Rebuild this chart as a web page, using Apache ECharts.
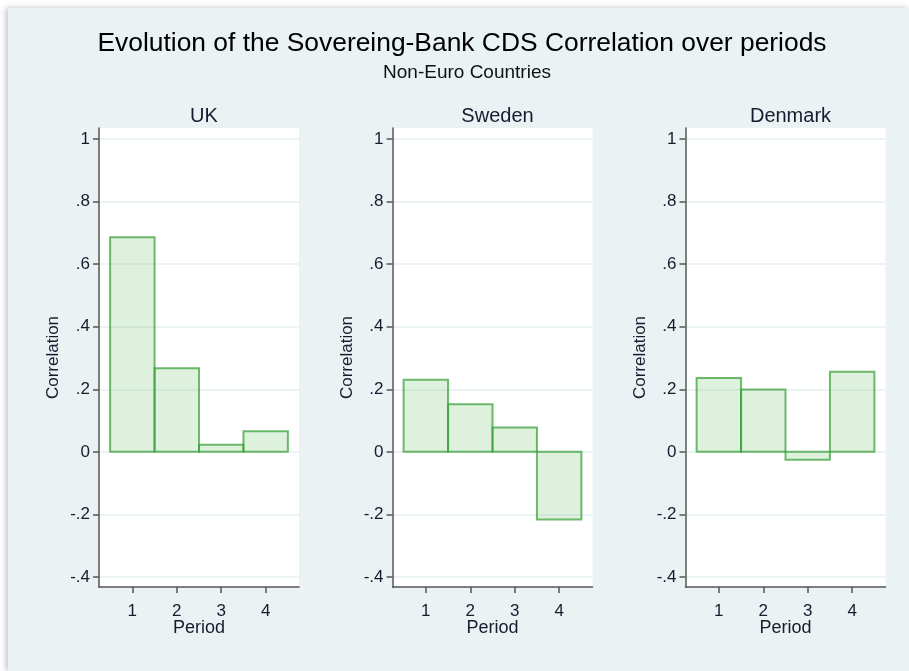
<!DOCTYPE html>
<html>
<head>
<meta charset="utf-8">
<script src="https://cdn.jsdelivr.net/npm/echarts@6/dist/echarts.min.js"></script>
<style>
  html, body { margin: 0; padding: 0; background: #ffffff; }
  #chart { width: 909px; height: 671px; }
</style>
</head>
<body>
<div id="chart"></div>
<script>
// Correlation of sovereign and bank CDS by period, non-euro countries
const countries = ['UK', 'Sweden', 'Denmark'];
const periods = [1, 2, 3, 4];
const ukValues = [0.686, 0.267, 0.023, 0.066];
const swedenValues = [0.230, 0.152, 0.078, -0.216];
const denmarkValues = [0.236, 0.199, -0.025, 0.256];
const yTickValues = [-0.4, -0.2, 0, 0.2, 0.4, 0.6, 0.8, 1];
const yTickLabels = ['-.4', '-.2', '0', '.2', '.4', '.6', '.8', '1'];
const titleText = 'Evolution of the Sovereing-Bank CDS Correlation over periods';
const subtitleText = 'Non-Euro Countries';
const xAxisName = 'Period';
const yAxisName = 'Correlation';

const seriesValues = [ukValues, swedenValues, denmarkValues];

const FONT = '"Liberation Sans", Arial, sans-serif';
const TEXT = '#1a1a2e';
const AXIS = '#555555';
const panelLefts = [99, 392.5, 685.5];
const panelWidth = 200;
const panelTop = 128;
const panelBottom = 671 - 587;

const chart = echarts.init(document.getElementById('chart'), null, { renderer: 'canvas' });

const grids = [], xAxes = [], yAxes = [], series = [], titles = [];

countries.forEach((name, i) => {
  grids.push({
    left: panelLefts[i], width: panelWidth, top: panelTop, bottom: panelBottom,
    show: true, backgroundColor: '#ffffff', borderWidth: 0, containLabel: false
  });
  xAxes.push({
    type: 'value', gridIndex: i, min: 0.25, max: 4.75,
    name: xAxisName, nameLocation: 'middle', nameGap: 32, nameMoveOverlap: false,
    nameTextStyle: { fontFamily: FONT, fontSize: 18, color: TEXT },
    axisLine: { show: true, onZero: false, lineStyle: { color: AXIS, width: 1.5 } },
    axisTick: { show: true, length: 6, lineStyle: { color: AXIS, width: 1.5 }, customValues: periods },
    axisLabel: { fontFamily: FONT, fontSize: 17, color: TEXT, margin: 16, customValues: periods,
      formatter: v => String(v) },
    splitLine: { show: false }
  });
  yAxes.push({
    type: 'value', gridIndex: i, min: -0.432, max: 1.035,
    name: yAxisName, nameLocation: 'middle', nameGap: 37, nameRotate: 90, nameMoveOverlap: false,
    nameTextStyle: { fontFamily: FONT, fontSize: 17, color: TEXT },
    axisLine: { show: true, lineStyle: { color: AXIS, width: 1.5 } },
    axisTick: { show: true, length: 6, lineStyle: { color: AXIS, width: 1.5 }, customValues: yTickValues },
    axisLabel: { fontFamily: FONT, fontSize: 17, color: TEXT, margin: 9, customValues: yTickValues,
      formatter: v => {
        const k = yTickValues.findIndex(t => Math.abs(t - v) < 1e-6);
        return k >= 0 ? yTickLabels[k] : '';
      } },
    splitLine: { show: true, lineStyle: { color: '#e6eff1', width: 1.5 } }
  });
  series.push({
    type: 'custom', xAxisIndex: i, yAxisIndex: i,
    data: periods.map((p, k) => [p, seriesValues[i][k]]),
    renderItem: (params, api) => {
      const x = api.value(0), v = api.value(1);
      const a = api.coord([x - 0.5, Math.max(v, 0)]);
      const b = api.coord([x + 0.5, Math.min(v, 0)]);
      return {
        type: 'rect',
        shape: { x: a[0], y: a[1], width: b[0] - a[0], height: b[1] - a[1] },
        style: { fill: 'rgba(120, 200, 120, 0.25)', stroke: 'rgba(55, 160, 55, 0.72)', lineWidth: 2 }
      };
    }
  });
  titles.push({
    text: name, left: panelLefts[i] + panelWidth / 2, top: 101, textAlign: 'center',
    textStyle: { fontFamily: FONT, fontSize: 20, fontWeight: 'normal', color: TEXT }
  });
});

// Main heading and subheading
titles.unshift({
  text: subtitleText, left: 462, top: 58, textAlign: 'center',
  textStyle: { fontFamily: FONT, fontSize: 19, fontWeight: 'normal', color: '#111111' }
});
titles.unshift({
  text: titleText, left: 457, top: 26, textAlign: 'center',
  textStyle: { fontFamily: FONT, fontSize: 26.4, fontWeight: 'normal', color: '#000000' }
});

chart.setOption({
  backgroundColor: '#ffffff',
  animation: false,
  graphic: [{
    type: 'rect', z: -10, silent: true,
    shape: { x: 8, y: 8, width: 901, height: 663 },
    style: { fill: '#eaf2f4', shadowBlur: 6, shadowColor: 'rgba(0,0,0,0.25)', shadowOffsetX: -2, shadowOffsetY: 0 }
  }],
  title: titles,
  grid: grids,
  xAxis: xAxes,
  yAxis: yAxes,
  series: series
});
</script>
</body>
</html>
